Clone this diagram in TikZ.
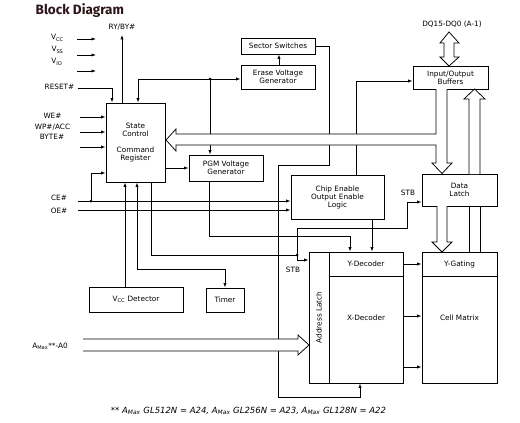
\documentclass[tikz,border=0pt]{standalone}
\usepackage{fontspec}
\setmainfont{DejaVu Sans}
\newfontfamily\titlefont{Fira Sans}
\usepackage{xcolor}
\usetikzlibrary{arrows.meta}
\definecolor{titlecol}{RGB}{45,20,25}

\begin{document}
\begin{tikzpicture}[x=1pt, y=-1pt, >={Latex[length=4.5pt,width=3.2pt]}, line width=0.75pt,
    font=\fontsize{7.3}{8}\selectfont]
\tikzstyle{box}=[draw, fill=white, align=center, inner sep=1pt]
\tikzstyle{lbl}=[inner sep=0.5pt, align=center]
\tikzstyle{jdot}=[circle, fill, inner sep=0pt, minimum size=3pt]
\tikzstyle{hollow}=[fill=white]

\useasboundingbox (0,0) rectangle (520,423);

\node[anchor=base west, font=\titlefont\bfseries\fontsize{13.5}{14}\selectfont, text=titlecol] (title) at (32,14) {Block Diagram};

\node[box, minimum width=59pt, minimum height=79pt] (sc) at (135.5,142.5) {State\\Control\\[8pt]Command\\Register};
\node[box, minimum width=74pt, minimum height=16pt] (sector) at (278,46) {Sector Switches};
\node[box, minimum width=74pt, minimum height=24pt] (erase) at (278,77) {Erase Voltage\\Generator};
\node[box, minimum width=74pt, minimum height=26pt] (pgm) at (226,168) {PGM Voltage\\Generator};
\node[box, minimum width=75pt, minimum height=23pt] (io) at (450.5,77.5) {Input/Output\\Buffers};
\node[box, minimum width=93pt, minimum height=44pt] (ce) at (337.5,197) {Chip Enable\\Output Enable\\Logic};
\node[box, minimum width=75pt, minimum height=32pt] (latch) at (459.5,190) {Data\\Latch};
\node[box, minimum width=94pt, minimum height=25pt] (vccdet) at (136,299.5) {V\textsubscript{CC} Detector};
\node[box, minimum width=38pt, minimum height=24pt] (timer) at (225,300) {Timer};
\node[box, minimum width=20pt, minimum height=131pt, label={[rotate=90]center:Address Latch}] (alatch) at (319,317.5) {};
\node[box, minimum width=74pt, minimum height=24pt] (ydec) at (366,264) {Y-Decoder};
\node[box, minimum width=74pt, minimum height=107pt, label={[yshift=12pt]center:X-Decoder}] (xdec) at (366,329.5) {};
\node[box, minimum width=75pt, minimum height=24pt] (ygate) at (459.5,264) {Y-Gating};
\node[box, minimum width=75pt, minimum height=107pt, label={[yshift=12pt]center:Cell Matrix}] (cell) at (459.5,329.5) {};

\node[lbl] (rdy) at (122,27) {RY/BY\#};
\node[lbl] (vcc) at (57.5,38) {V\textsubscript{CC}};
\node[lbl] (vss) at (57.5,50) {V\textsubscript{SS}};
\node[lbl] (vio) at (57,62) {V\textsubscript{IO}};
\node[lbl] (reset) at (59.5,87) {RESET\#};
\node[lbl] (we) at (52.5,116) {WE\#};
\node[lbl] (wp) at (52.5,127) {WP\#/ACC};
\node[lbl] (byte) at (52,137) {BYTE\#};
\node[lbl] (cepin) at (59,198) {CE\#};
\node[lbl] (oepin) at (59,211) {OE\#};
\node[lbl] (amax) at (50,346) {A\textsubscript{Max}**-A0};
\node[lbl] (dq) at (452,24) {DQ15-DQ0 (A-1)};
\node[lbl] (stbl) at (408,193) {STB};
\node[lbl] (stba) at (293,270) {STB};
\node[lbl, font=\itshape\fontsize{8.5}{9}\selectfont] (note) at (248.5,411) {** A\textsubscript{Max} GL512N = A24, A\textsubscript{Max} GL256N = A23, A\textsubscript{Max} GL128N = A22};

\coordinate (vccA) at (77,39);   \coordinate (vccB) at (96,39);
\coordinate (vssA) at (77,55);   \coordinate (vssB) at (96,55);
\coordinate (vioA) at (77,71);   \coordinate (vioB) at (96,71);
\coordinate (resetA) at (78,88);
\coordinate (weA) at (80,117);
\coordinate (wpA) at (80,132);
\coordinate (byteA) at (80,147);
\coordinate (ceA) at (78,201);
\coordinate (oeA) at (78,210);
\coordinate (ceJ) at (91,201);
\coordinate (evJ) at (210,79);
\coordinate (stbJ) at (297,255);
\coordinate (stbB) at (407,228);
\coordinate (swA) at (329,165);
\coordinate (swB) at (278,397);

\draw[->] (vccA) -- (vccB);
\draw[->] (vssA) -- (vssB);
\draw[->] (vioA) -- (vioB);
\draw[->] (resetA) -| ([xshift=-23.5pt]sc.north);
\draw[->] (sc.north -| rdy) -- ([yshift=-4pt]rdy.south);
\draw[->] (weA) -- (weA -| sc.west);
\draw[->] (wpA) -- (wpA -| sc.west);
\draw[->] (byteA) -- (byteA -| sc.west);
\draw[->] (ceA) -- (ceA -| ce.west);
\draw[->] (oeA) -- (oeA -| ce.west);
\draw[->] (ceJ) |- ([yshift=-30.5pt]sc.west);
\node[jdot] (cedot) at (ceJ) {};

\draw[->] (evJ) -| ([xshift=2.5pt]sc.north);
\draw[->] (evJ) -- (evJ -| erase.west);
\draw[->] (evJ) -- (evJ |- pgm.north);
\node[jdot] (evdot) at (evJ) {};
\draw[->] ([xshift=1pt]erase.north) -- ([xshift=1pt]sector.south);
\draw[->] (sector.east) -| (swA) -| (swB) -| ([xshift=-6pt]xdec.south);
\draw[->] (sc.east |- pgm.west) -- (pgm.west);

\draw[->] ([xshift=-11pt]vccdet.north) -- ([xshift=-11pt]vccdet.north |- sc.south);
\draw[<->] ([xshift=1.5pt]sc.south) |- ([yshift=18pt]timer.north) -- (timer.north);

\draw ([xshift=15.5pt]sc.south) |- (stbJ);
\draw[->] (stbJ) -- (stbJ |- stbB) -- (stbB) |- ([yshift=-12pt]latch.west);
\draw[->] (stbJ) |- ([yshift=57.5pt]alatch.west);
\node[jdot] (stbdot) at (stbJ) {};

\draw[->] ([xshift=-17pt]pgm.south) |- ([xshift=-16pt,yshift=15pt]ydec.north) -- ([xshift=-16pt]ydec.north);
\draw[->] ([xshift=6pt]ydec.north |- ce.south) -- ([xshift=6pt]ydec.north);
\draw[->] ([xshift=18.5pt]ce.north) |- ([yshift=-3.5pt]io.west);

\draw[->] (ydec.east) -- (ygate.west);
\draw[->] ([yshift=13.5pt]xdec.east) -- ([yshift=13.5pt]xdec.east -| cell.west);
\draw[->] ([yshift=-37.5pt]xdec.east) -- ([yshift=-37.5pt]xdec.east -| cell.west);

\filldraw[hollow] (444,43) -- (440,43) -- (449,32) -- (459,43) -- (454,43) -- (454,57) -- (459,57) -- (449,66) -- (440,57) -- (444,57) -- cycle;
\filldraw[hollow] (436,89) -- (436,134) -- (176,134) -- (176,129) -- (166,140) -- (176,151) -- (176,145) -- (436,145) -- (436,163) -- (432,163) -- (442,173.5) -- (452,163) -- (447,163) -- (447,89);
\filldraw[hollow] (437,206) -- (437,242) -- (432,242) -- (442,252) -- (452,242) -- (447,242) -- (447,206);
\draw (469,252) -- (469,206) (480,252) -- (480,206);
\filldraw[hollow] (469,174) -- (469,99) -- (464,99) -- (474.5,89) -- (485,99) -- (480,99) -- (480,174);
\filldraw[hollow] (83,339) -- (298,339) -- (298,335) -- (309,345) -- (298,355) -- (298,351) -- (83,351);
\end{tikzpicture}
\end{document}
